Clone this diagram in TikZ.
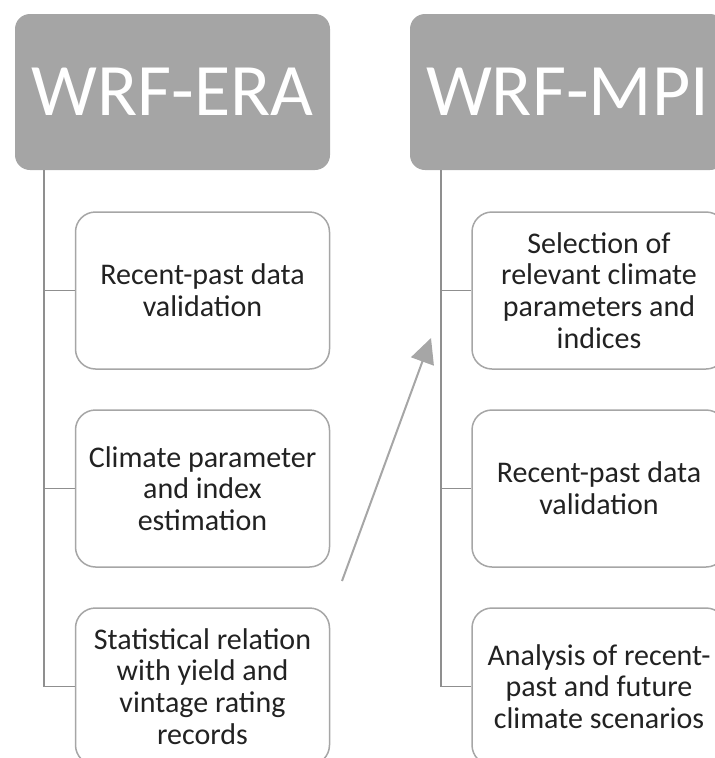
\documentclass[tikz,border=0pt]{standalone}
\usepackage{fontspec}
\setmainfont{Carlito}
\usetikzlibrary{arrows.meta}

\definecolor{hdrgray}{HTML}{A5A5A5}
\definecolor{boxgray}{HTML}{A6A6A6}
\definecolor{linegray}{HTML}{8F8F8F}
\definecolor{txtgray}{HTML}{222222}

\tikzset{
  header/.style={rectangle, rounded corners=15pt, fill=hdrgray, text=white,
    minimum width=315pt, minimum height=156pt, inner sep=0pt,
    font=\fontsize{74}{80}\selectfont},
  task/.style={rectangle, rounded corners=20pt, draw=boxgray, line width=1.5pt,
    fill=white, minimum width=254pt, minimum height=157pt, inner sep=0pt,
    align=center, text=txtgray, font=\fontsize{30}{31.7}\selectfont},
  branch/.style={draw=linegray, line width=1.6pt},
}

\begin{document}
\begin{tikzpicture}[x=1pt, y=-1pt]
    \useasboundingbox (0,0) rectangle (715,758);
    \clip (0,0) rectangle (715,758);

    % Headers
    \node[header] (era) at (172.5,92) {WRF-ERA};
    \node[header] (mpi) at (567.5,92) {WRF-MPI};

    % Branch roots
    \coordinate (eraroot) at (44,170);
    \coordinate (mpiroot) at (441,170);

    % WRF-ERA tasks
    \node[task] (e1) at (202.5,290.5) {Recent-past data\\validation};
    \node[task] (e2) at (202.5,488.5) {Climate parameter\\and index\\estimation};
    \node[task] (e3) at (202.5,686.5) {Statistical relation\\with yield and\\vintage rating\\records};

    % WRF-MPI tasks
    \node[task] (m1) at (599,290.5) {Selection of\\relevant climate\\parameters and\\indices};
    \node[task] (m2) at (599,488.5) {Recent-past data\\validation};
    \node[task] (m3) at (599,686.5) {Analysis of recent-\\past and future\\climate scenarios};

    % Branches
    \foreach \t in {e1,e2,e3} {
        \draw[branch] (eraroot) |- (\t.west);
    }
    \foreach \t in {m1,m2,m3} {
        \draw[branch] (mpiroot) |- (\t.west);
    }

    % Arrow between the columns
    \coordinate (arrtail) at (342,581);
    \coordinate (arrtip) at (431,338);
    \draw[boxgray, line width=2pt, -{Triangle[length=25pt,width=24pt]}] (arrtail) -- (arrtip);
\end{tikzpicture}
\end{document}
